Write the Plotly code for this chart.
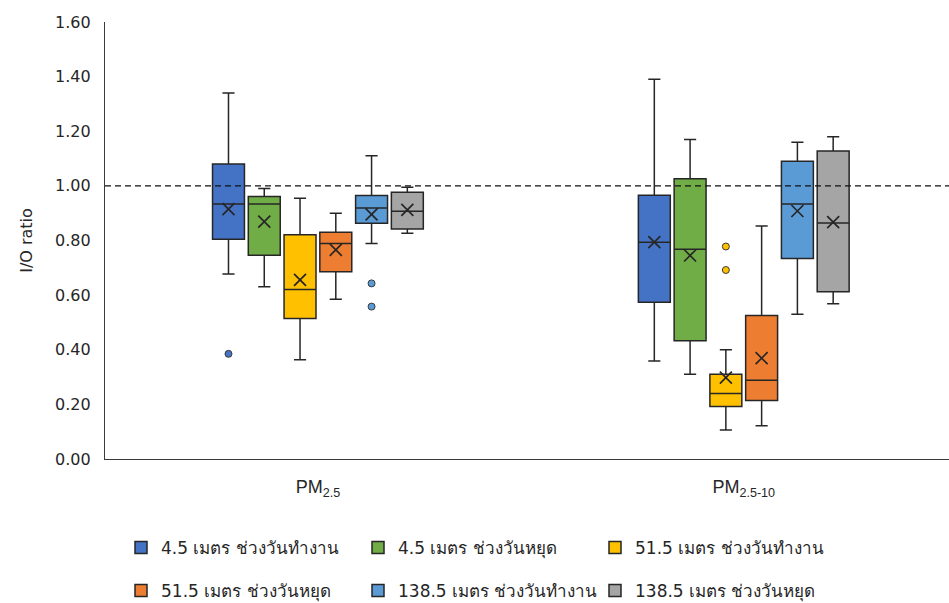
import plotly.graph_objects as go

# Categories on the x axis
categories = ["PM<sub>2.5</sub>", "PM<sub>2.5-10</sub>"]

# Series (height + day type)
series_names = [
    "4.5 เมตร ช่วงวันทำงาน",
    "4.5 เมตร ช่วงวันหยุด",
    "51.5 เมตร ช่วงวันทำงาน",
    "51.5 เมตร ช่วงวันหยุด",
    "138.5 เมตร ช่วงวันทำงาน",
    "138.5 เมตร ช่วงวันหยุด",
]

# Box statistics per series: [PM2.5, PM2.5-10]
upper_whisker = [[1.34, 1.39], [0.99, 1.17], [0.955, 0.40], [0.90, 0.853], [1.11, 1.16], [0.995, 1.18]]
q3_values = [[1.08, 0.966], [0.961, 1.026], [0.821, 0.31], [0.83, 0.525], [0.965, 1.09], [0.977, 1.128]]
median_values = [[0.934, 0.794], [0.934, 0.768], [0.621, 0.24], [0.789, 0.288], [0.919, 0.934], [0.907, 0.864]]
mean_values = [[0.915, 0.794], [0.869, 0.745], [0.656, 0.298], [0.766, 0.369], [0.896, 0.908], [0.912, 0.867]]
q1_values = [[0.805, 0.574], [0.746, 0.433], [0.514, 0.192], [0.686, 0.214], [0.863, 0.734], [0.842, 0.612]]
lower_whisker = [[0.677, 0.359], [0.631, 0.31], [0.363, 0.106], [0.585, 0.122], [0.789, 0.53], [0.827, 0.568]]

# Outlying points per series: [PM2.5 list, PM2.5-10 list]
outliers = [
    [[0.385], []],
    [[], []],
    [[], [0.778, 0.692]],
    [[], []],
    [[0.643, 0.558], []],
    [[], []],
]

# Y axis ticks
y_ticks = [0.0, 0.2, 0.4, 0.6, 0.8, 1.0, 1.2, 1.4, 1.6]
reference_ratio = 1.0

colors = ["#4472C4", "#70AD47", "#FFC000", "#ED7D31", "#5B9BD5", "#A5A5A5"]
edge = "#262626"
text_color = "#262626"

n = len(series_names)
step = 0.084          # spacing between boxes within a category
box_w = 0.075         # box width in axis units

# legend grid: 3 columns x 2 rows (pixel positions of each entry)
W, H = 949, 603
legend_cols_px = [121, 358, 595]
legend_rows_px = [548, 591]

fig = go.Figure()
layout_legends = {}
for i, name in enumerate(series_names):
    off = (i - (n - 1) / 2) * step
    xs = [c + off for c in range(len(categories))]
    lg = "legend" if i == 0 else f"legend{i + 1}"
    fig.add_trace(go.Box(
        x=xs,
        q1=q1_values[i], median=median_values[i], q3=q3_values[i],
        lowerfence=lower_whisker[i], upperfence=upper_whisker[i],
        name=name, width=box_w, whiskerwidth=0.38,
        fillcolor=colors[i], line=dict(color=edge, width=1.5),
        boxpoints=False, hoverinfo="skip", legend=lg,
    ))
    # mean markers
    fig.add_trace(go.Scatter(
        x=xs, y=mean_values[i], mode="markers", showlegend=False, hoverinfo="skip",
        marker=dict(symbol="x-thin", size=12, line=dict(color=edge, width=1.7)),
    ))
    # outlier points
    ox, oy = [], []
    for c, vals in enumerate(outliers[i]):
        for v in vals:
            ox.append(c + off)
            oy.append(v)
    if ox:
        fig.add_trace(go.Scatter(
            x=ox, y=oy, mode="markers", showlegend=False, hoverinfo="skip",
            marker=dict(symbol="circle", size=7, color=colors[i],
                        line=dict(color="#3a3a3a", width=1)),
        ))
    layout_legends[lg] = dict(
        orientation="h", xref="container", yref="container",
        xanchor="left", yanchor="middle",
        x=legend_cols_px[i % 3] / W, y=1 - legend_rows_px[i // 3] / H,
        font=dict(family="Tahoma, DejaVu Sans, sans-serif", size=17, color=text_color),
        bgcolor="rgba(0,0,0,0)", itemclick=False, itemdoubleclick=False,
    )

fig.add_shape(type="line", xref="paper", x0=0, x1=1, yref="y",
              y0=reference_ratio, y1=reference_ratio,
              line=dict(color="#111111", width=1.3, dash="6px,4px"))

fig.update_layout(
    width=W, height=H,
    margin=dict(l=105, r=0, t=22, b=144),
    paper_bgcolor="white", plot_bgcolor="white",
    showlegend=True,
    xaxis=dict(
        range=[-0.5, 1.482], tickvals=list(range(len(categories))), ticktext=categories,
        showgrid=False, zeroline=False, showline=True, linecolor="#3a3a3a", linewidth=1.3,
        ticks="", ticklabelstandoff=11,
        tickfont=dict(family="Liberation Sans, Arial, sans-serif", size=18, color=text_color),
    ),
    yaxis=dict(
        range=[0, 1.6], tickvals=y_ticks, tickformat=".2f",
        showgrid=False, zeroline=False, showline=True, linecolor="#3a3a3a", linewidth=1.3,
        ticks="", ticklabelstandoff=10,
        tickfont=dict(family="DejaVu Sans, Verdana, sans-serif", size=16, color=text_color),
        title=dict(text="I/O ratio", standoff=18,
                   font=dict(family="DejaVu Sans, Verdana, sans-serif", size=16, color=text_color)),
    ),
    **layout_legends,
)

fig.write_html("out.html")
